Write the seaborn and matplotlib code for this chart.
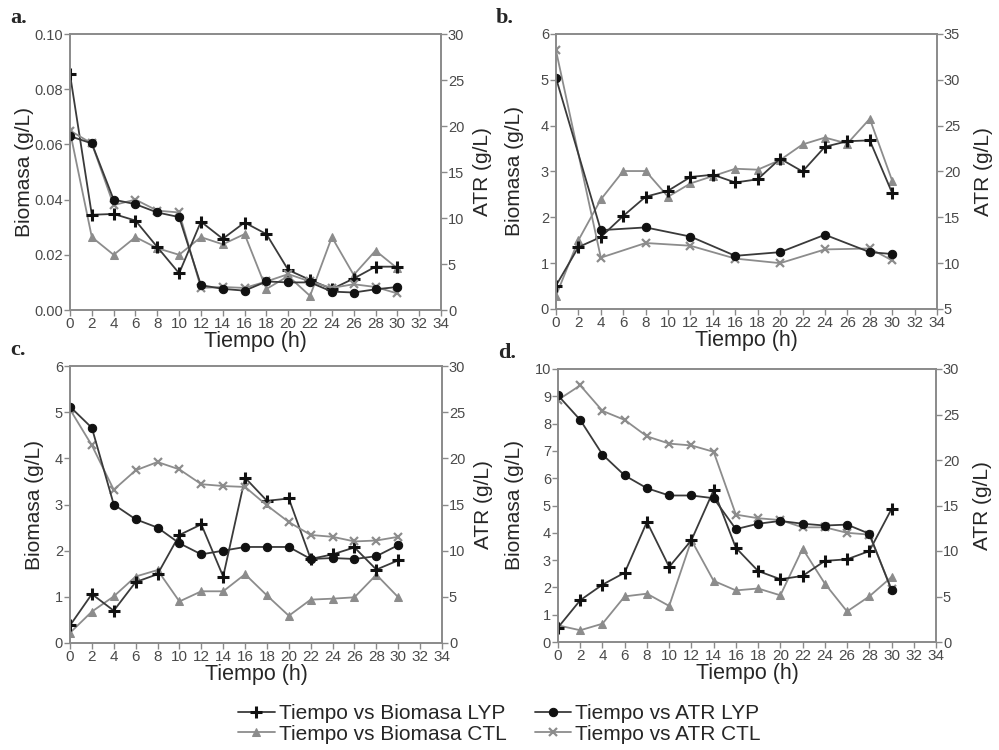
import matplotlib
matplotlib.use("Agg")
import matplotlib.pyplot as plt
import seaborn as sns

sns.set_style("white")
plt.rcParams['font.family'] = ['Liberation Sans', 'DejaVu Sans']

t = list(range(0, 31, 2))
t4 = [0, 4, 8, 12, 16, 20, 24, 28, 30]

# panel a
a_bio_lyp = [0.0854, 0.0345, 0.0348, 0.0324, 0.0228, 0.0133, 0.0320, 0.0258, 0.0317, 0.0275, 0.0145, 0.0109, 0.0076, 0.0114, 0.0157, 0.0157]
a_bio_ctl = [0.0647, 0.0264, 0.0200, 0.0264, 0.0224, 0.0200, 0.0264, 0.0238, 0.0275, 0.0076, 0.0123, 0.0051, 0.0264, 0.0127, 0.0215, 0.0151]
a_atr_lyp = [18.9, 18.1, 12.0, 11.5, 10.6, 10.1, 2.7, 2.3, 2.1, 3.1, 3.0, 3.0, 2.0, 1.9, 2.25, 2.5]
a_atr_ctl = [19.5, 18.1, 11.4, 12.0, 10.8, 10.6, 2.4, 2.5, 2.4, 3.1, 3.9, 3.1, 2.4, 2.8, 2.5, 1.8]

# panel b (ATR measured every 4 h)
b_bio_lyp = [0.51, 1.35, 1.57, 2.03, 2.45, 2.58, 2.88, 2.93, 2.76, 2.83, 3.28, 3.00, 3.54, 3.66, 3.68, 2.53]
b_bio_ctl = [0.29, 1.50, 2.39, 3.01, 3.01, 2.45, 2.74, 2.90, 3.06, 3.04, 3.25, 3.59, 3.74, 3.61, 4.15, 2.80]
b_atr_lyp = [30.2, 13.6, 13.9, 12.9, 10.8, 11.2, 13.1, 11.2, 11.0]
b_atr_ctl = [33.2, 10.6, 12.2, 11.9, 10.5, 10.0, 11.5, 11.6, 10.3]

# panel c
c_bio_lyp = [0.38, 1.06, 0.70, 1.32, 1.49, 2.34, 2.57, 1.44, 3.58, 3.08, 3.13, 1.82, 1.92, 2.07, 1.59, 1.79]
c_bio_ctl = [0.22, 0.68, 1.01, 1.44, 1.58, 0.90, 1.12, 1.12, 1.49, 1.03, 0.59, 0.94, 0.96, 0.99, 1.48, 0.99]
c_atr_lyp = [25.6, 23.3, 15.0, 13.4, 12.5, 10.8, 9.6, 10.0, 10.4, 10.4, 10.4, 9.1, 9.2, 9.1, 9.4, 10.6]
c_atr_ctl = [25.3, 21.4, 16.6, 18.7, 19.6, 18.8, 17.2, 17.0, 16.9, 14.9, 13.1, 11.7, 11.5, 11.0, 11.1, 11.5]

# panel d
d_bio_lyp = [0.53, 1.53, 2.10, 2.54, 4.40, 2.75, 3.73, 5.56, 3.45, 2.60, 2.30, 2.42, 2.97, 3.03, 3.33, 4.87]
d_bio_ctl = [0.61, 0.43, 0.67, 1.67, 1.77, 1.32, 3.73, 2.24, 1.89, 1.96, 1.71, 3.42, 2.14, 1.12, 1.67, 2.38]
d_atr_lyp = [27.1, 24.4, 20.6, 18.3, 16.9, 16.1, 16.1, 15.8, 12.4, 13.0, 13.3, 13.0, 12.8, 12.9, 11.9, 5.7]
d_atr_ctl = [26.6, 28.2, 25.4, 24.4, 22.6, 21.8, 21.6, 20.9, 14.0, 13.6, 13.4, 12.6, 12.6, 12.0, 11.8, 5.8]

labels = ["Tiempo vs Biomasa LYP", "Tiempo vs Biomasa CTL", "Tiempo vs ATR LYP", "Tiempo vs ATR CTL"]

panels = [
    dict(letter="a.", rect=[70, 34, 441, 310], bio=(t, a_bio_lyp, a_bio_ctl), atr=(t, a_atr_lyp, a_atr_ctl),
         ylim=(0, 0.10), yticks=[0, 0.02, 0.04, 0.06, 0.08, 0.10], yfmt="{:.2f}", rlim=(0, 30), rticks=range(0, 31, 5),
         lpad=0, rpad=6),
    dict(letter="b.", rect=[556, 34, 937, 309], bio=(t, b_bio_lyp, b_bio_ctl), atr=(t4, b_atr_lyp, b_atr_ctl),
         ylim=(0, 6), yticks=range(0, 7), yfmt="{:d}", rlim=(5, 35), rticks=range(5, 36, 5),
         lpad=12, rpad=10),
    dict(letter="c.", rect=[70, 366, 442, 643], bio=(t, c_bio_lyp, c_bio_ctl), atr=(t, c_atr_lyp, c_atr_ctl),
         ylim=(0, 6), yticks=range(0, 7), yfmt="{:d}", rlim=(0, 30), rticks=range(0, 31, 5),
         lpad=8, rpad=6),
    dict(letter="d.", rect=[558, 369, 936, 642], bio=(t, d_bio_lyp, d_bio_ctl), atr=(t, d_atr_lyp, d_atr_ctl),
         ylim=(0, 10), yticks=range(0, 11), yfmt="{:d}", rlim=(0, 30), rticks=range(0, 31, 5),
         lpad=8, rpad=10),
]

W, H = 999, 750
fig = plt.figure(figsize=(W / 100, H / 100), dpi=100)

dline = "#3a3a3a"
grey = "#8c8c8c"
spine_c = "#8a8a8a"
tick_c = "#4a4a4a"

handles = []
for p in panels:
    x0, y0, x1, y1 = p["rect"]
    ax = fig.add_axes([x0 / W, 1 - y1 / H, (x1 - x0) / W, (y1 - y0) / H])
    ax2 = ax.twinx()

    tb, blyp, bctl = p["bio"]
    ta, alyp, actl = p["atr"]

    sns.lineplot(x=tb, y=bctl, ax=ax, color=grey, marker="^", markersize=6, markeredgecolor=grey,
                 linewidth=1.3, label=labels[1])
    sns.lineplot(x=tb, y=blyp, ax=ax, color=dline, marker="+", markersize=9, markeredgewidth=2.2,
                 markeredgecolor="#111111", linewidth=1.3, label=labels[0])
    sns.lineplot(x=ta, y=actl, ax=ax2, color=grey, marker="x", markersize=6, markeredgewidth=1.6,
                 markeredgecolor=grey, linewidth=1.3, label=labels[3])
    sns.lineplot(x=ta, y=alyp, ax=ax2, color=dline, marker="o", markersize=6, markeredgecolor="#111111",
                 markerfacecolor="#111111", linewidth=1.3, label=labels[2])

    for a in (ax, ax2):
        leg = a.get_legend()
        if leg is not None:
            leg.remove()
    if not handles:
        h1, _ = ax.get_legend_handles_labels()
        h2, _ = ax2.get_legend_handles_labels()
        handles = [h1[1], h1[0], h2[1], h2[0]]

    ax.set_xlim(0, 34)
    ax.set_xticks(range(0, 35, 2))
    ax.set_ylim(*p["ylim"])
    ax.set_yticks(list(p["yticks"]))
    ax.set_yticklabels([p["yfmt"].format(v) for v in p["yticks"]])
    ax2.set_ylim(*p["rlim"])
    ax2.set_yticks(list(p["rticks"]))

    for a in (ax, ax2):
        for s in a.spines.values():
            s.set_color(spine_c)
            s.set_linewidth(1.2)
        a.tick_params(axis="both", which="both", direction="out", length=4, width=1,
                      color=spine_c, labelcolor=tick_c, labelsize=10.5, pad=1)
    ax.tick_params(axis="x", bottom=True, labelsize=11)
    ax.tick_params(axis="y", left=True)
    ax2.tick_params(axis="y", right=True)

    ax.set_xlabel("Tiempo (h)", fontsize=15.5, labelpad=0)
    ax.set_ylabel("Biomasa (g/L)", fontsize=15, labelpad=p["lpad"])
    ax2.set_ylabel("ATR (g/L)", fontsize=15, labelpad=p["rpad"])

    fig.text((x0 - 60) / W, 1 - (y0 - 16) / H, p["letter"], fontsize=16, fontweight="bold",
             family=["Liberation Serif", "DejaVu Serif"], va="center", ha="left")

fig.legend(handles, labels, loc="center", bbox_to_anchor=(0.5, 1 - 724 / H), ncol=2, frameon=False,
           fontsize=15, handlelength=1.75, handletextpad=0.2, columnspacing=1.35, labelspacing=0.05)

fig.savefig("out.png", dpi=100)
plt.close(fig)
